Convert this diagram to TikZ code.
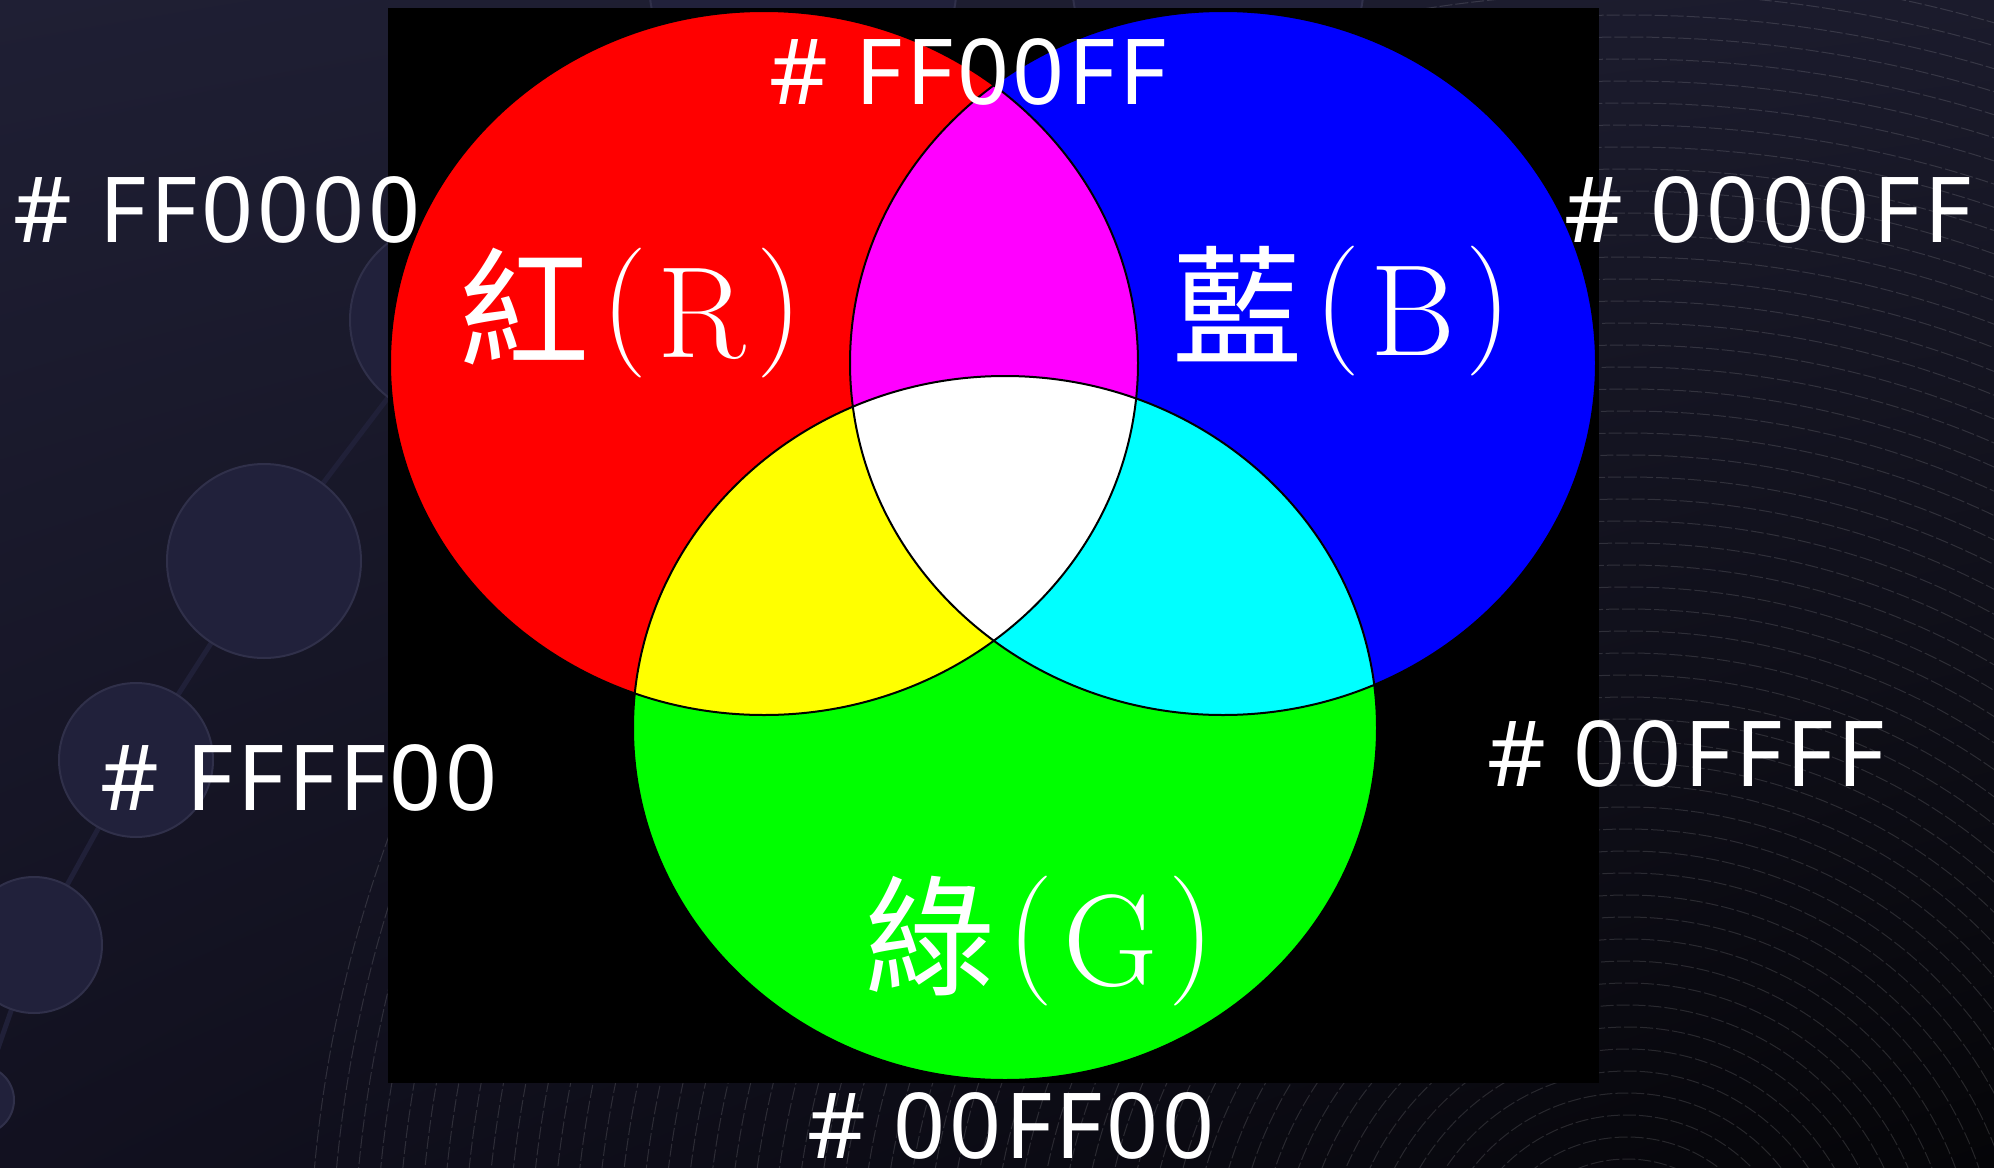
\documentclass[tikz,border=0pt]{standalone}
\usepackage{fontspec}
\usetikzlibrary{shadings}
\newfontfamily\hexfont{Noto Sans}[LetterSpace=4]
\newfontfamily\cjk{Noto Sans CJK TC}

\definecolor{rgbR}{HTML}{FF0000}
\definecolor{rgbG}{HTML}{00FF00}
\definecolor{rgbB}{HTML}{0000FF}
\definecolor{rgbM}{HTML}{FF00FF}
\definecolor{rgbY}{HTML}{FFFF00}
\definecolor{rgbC}{HTML}{00FFFF}
\definecolor{bgUL}{RGB}{31,31,52}
\definecolor{bgUR}{RGB}{27,27,44}
\definecolor{bgLL}{RGB}{18,17,32}
\definecolor{bgLR}{RGB}{5,5,8}
\definecolor{decofill}{RGB}{33,33,59}
\definecolor{decoedge}{RGB}{48,48,74}
\definecolor{decoline}{RGB}{32,32,56}

% the three colour discs
\newcommand{\circR}{(764,363) ellipse [x radius=374, y radius=352]}
\newcommand{\circB}{(1223,363) ellipse [x radius=373, y radius=352]}
\newcommand{\circG}{(1005,728) ellipse [x radius=372, y radius=352]}
\newcommand{\paren}[1]{\raisebox{0.09em}{#1}}
\newcommand{\colname}[2]{{\cjk #1}\hspace{6pt}\paren{(}\hspace{5pt}#2\hspace{5pt}\paren{)}}

\begin{document}
\begin{tikzpicture}[x=0.5pt,y=-0.5pt,
    hexlabel/.style={text=white,inner sep=0pt,anchor=base,font=\hexfont\fontsize{45.5}{50}\selectfont},
    colorname/.style={text=white,inner sep=0pt,anchor=base,font=\fontsize{65}{70}\selectfont},
    deco/.style={fill=decofill,draw=decoedge,line width=1pt},
    ring/.style={draw=white,draw opacity=0.13,line width=0.5pt,dash pattern=on 6.5pt off 1.5pt},
    edge/.style={draw=black,line width=1pt}]
  \useasboundingbox (0,0) rectangle (1994,1168);
  % background
  \shade[upper left=bgUL,upper right=bgUR,lower left=bgLL,lower right=bgLR]
    (0,0) rectangle (1994,1168);
  \begin{scope}
    \clip (0,0) rectangle (1994,1168);
    \foreach \r in {130,152,...,1330}
      \draw[ring] (1627,1289) circle [radius=\r];
    \draw[decoline,line width=2.5pt] (447,320) -- (264,561) -- (136,760) -- (34,945) -- (-20,1100);
    \foreach \x/\y/\r in {447/320/97, 264/561/97, 136/760/77, 34/945/68, -20/1100/34,
                          803/-20/154, 1218/-20/146}
      \draw[deco] (\x,\y) circle [radius=\r];
  \end{scope}

  % picture
  \fill[black] (388,8) rectangle (1599,1083);
  \fill[rgbR] \circR;
  \fill[rgbB] \circB;
  \fill[rgbG] \circG;
  \begin{scope}
    \clip \circB;
    \fill[rgbC] \circG;
  \end{scope}
  \begin{scope}
    \clip \circR;
    \fill[rgbM] \circB;
    \fill[rgbY] \circG;
    \clip \circB;
    \fill[white] \circG;
  \end{scope}
  \draw[edge] \circR;
  \draw[edge] \circB;
  \draw[edge] \circG;

  \node[colorname] (nameR) at (631,357) {\colname{紅}{R}};
  \node[colorname] (nameB) at (1342,355) {\colname{藍}{B}};
  \node[colorname] (nameG) at (1040,985) {\colname{綠}{G}};

  % hex codes
  \node[hexlabel] (hexR) at (217,242) {\# FF0000};
  \node[hexlabel] (hexM) at (968,104) {\# FF00FF};
  \node[hexlabel] (hexB) at (1768,242) {\# 0000FF};
  \node[hexlabel] (hexY) at (299,810) {\# FFFF00};
  \node[hexlabel] (hexC) at (1686,786) {\# 00FFFF};
  \node[hexlabel] (hexG) at (1011,1158) {\# 00FF00};
\end{tikzpicture}
\end{document}
